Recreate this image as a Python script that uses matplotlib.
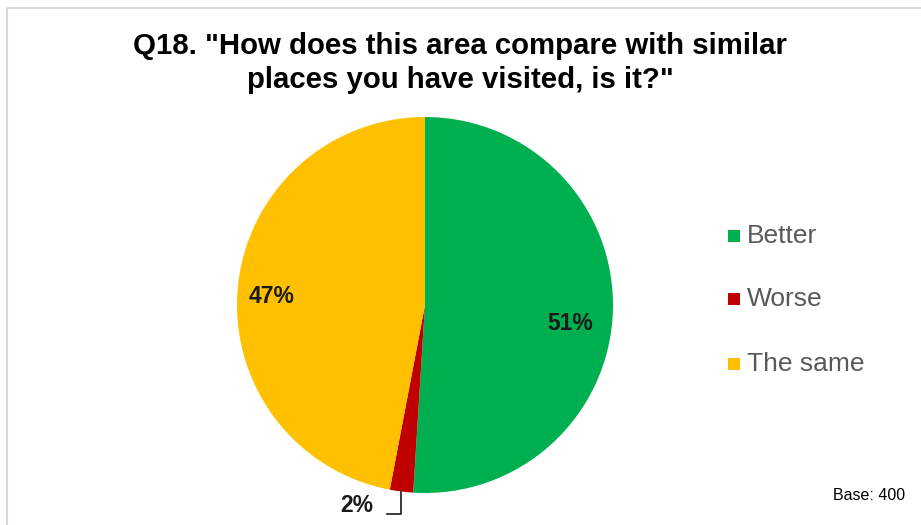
import numpy as np
import matplotlib.pyplot as plt
from matplotlib.patches import Rectangle

plt.rcParams['font.family'] = ['Liberation Sans', 'DejaVu Sans']

title = 'Q18. "How does this area compare with similar\nplaces you have visited, is it?"'
categories = ['Better', 'Worse', 'The same']
shares = [51, 2, 47]
colours = ['#00B050', '#C00000', '#FFC000']
base_n = 400

fig = plt.figure(figsize=(9.21, 5.25), dpi=100)

# light grey chart-area frame
fig.patches.append(Rectangle((7 / 921, -0.05), 1.0, 1 - 8 / 525 + 0.05,
                             transform=fig.transFigure, fill=False,
                             edgecolor='#D9D9D9', linewidth=1.5))

ax = fig.add_axes([237 / 921, 32 / 525, 376 / 921, 376 / 525])
wedges, _ = ax.pie(shares, colors=colours, startangle=90, counterclock=False,
                   radius=1.0, wedgeprops=dict(linewidth=0))
ax.set_xlim(-1, 1)
ax.set_ylim(-1, 1)
ax.set_aspect('equal')
ax.axis('off')

# data labels
label_pos = [(0.771, -0.096), (-0.362, -1.064), (-0.814, 0.043)]
for v, (x, y) in zip(shares, label_pos):
    ax.text(x, y, f'{v}%', ha='center', va='center', fontsize=16.5,
            fontweight='bold', color='#1a1a1a', clip_on=False)

# leader line for the small slice
w = wedges[1]
mid = np.deg2rad((w.theta1 + w.theta2) / 2)
x0, y0 = np.cos(mid), np.sin(mid)
ax.plot([x0, x0, x0 - 0.075], [y0, -1.112, -1.112], color='#1a1a1a',
        linewidth=1.2, clip_on=False)

fig.text(460 / 921, 1 - 63 / 525, title, ha='center', va='center',
         fontsize=21.2, fontweight='bold', color='#000000', linespacing=1.28)

# legend
leg_y = [236, 299, 364]
for name, c, y in zip(categories, colours, leg_y):
    fig.patches.append(Rectangle((728 / 921, 1 - (y + 6) / 525), 12 / 921, 12 / 525,
                                 transform=fig.transFigure, facecolor=c,
                                 edgecolor='none'))
    fig.text(747 / 921, 1 - y / 525, name, ha='left', va='center',
             fontsize=19, color='#595959')

fig.text(905 / 921, 1 - 496 / 525, f'Base: {base_n}', ha='right', va='center',
         fontsize=11.5, color='#000000')

fig.savefig('out.png', dpi=100)
